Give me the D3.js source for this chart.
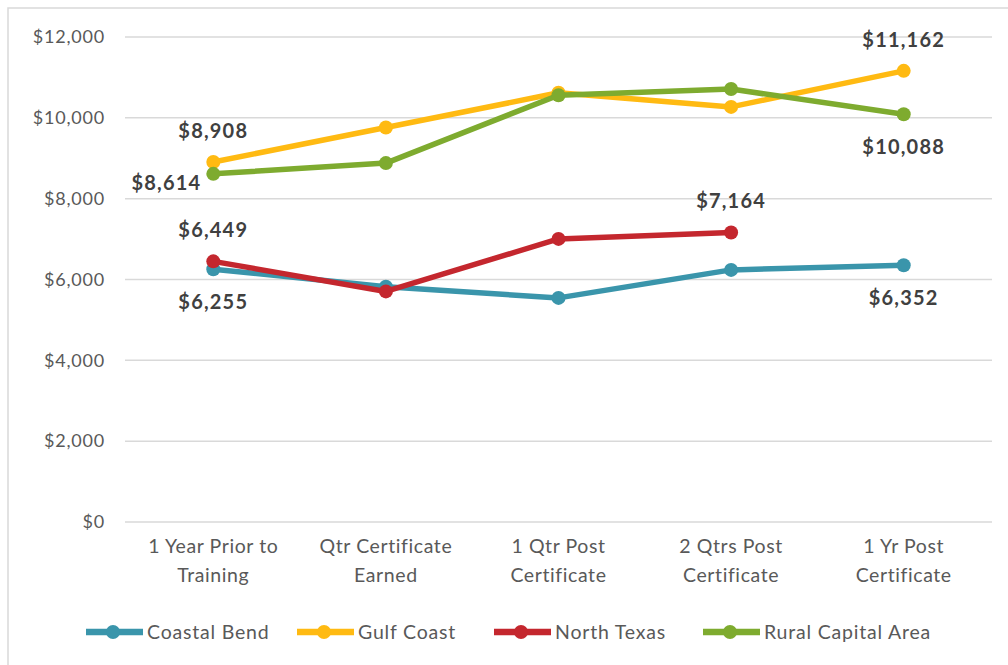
<!DOCTYPE html>
<html>
<head>
<meta charset="utf-8">
<script src="https://cdn.jsdelivr.net/npm/d3@7"></script>
<style>
  body { margin: 0; background: #fff; }
  svg { display: block; font-family: Lato, "Open Sans", sans-serif; }
</style>
</head>
<body>
<script>
// data
var categories = ["1 Year Prior to|Training", "Qtr Certificate|Earned", "1 Qtr Post|Certificate",
                  "2 Qtrs Post|Certificate", "1 Yr Post|Certificate"];
var seriesNames = ["Coastal Bend", "Gulf Coast", "North Texas", "Rural Capital Area"];
var coastalBend = [6255, 5820, 5545, 6238, 6352];
var gulfCoast = [8908, 9760, 10619, 10270, 11162];
var northTexas = [6449, 5705, 7005, 7164, null];
var ruralCapital = [8614, 8880, 10560, 10712, 10088];
var yTicks = [0, 2000, 4000, 6000, 8000, 10000, 12000];
var colors = ["#3a95ab", "#ffba12", "#c4272e", "#7eab2f"];

// which points get a value label and where
var labels = [
  {s: 1, i: 0, pos: "above"}, {s: 3, i: 0, pos: "left"},
  {s: 2, i: 0, pos: "above"}, {s: 0, i: 0, pos: "below"},
  {s: 2, i: 3, pos: "above"}, {s: 1, i: 4, pos: "above"},
  {s: 3, i: 4, pos: "below"}, {s: 0, i: 4, pos: "below"}
];

var allValues = [coastalBend, gulfCoast, northTexas, ruralCapital];
var series = seriesNames.map(function(n, k){
  return {name: n, color: colors[k], values: allValues[k]};
});

var width = 1008, height = 665;
var svg = d3.select("body").append("svg")
            .attr("width", width)
            .attr("height", height);

// outer chart border
svg.append("rect")
   .attr("x", 8).attr("y", 8)
   .attr("width", 1010).attr("height", 670)
   .attr("fill", "none")
   .attr("stroke", "#d9d9d9")
   .attr("stroke-width", 1.5);

var x = d3.scalePoint()
          .domain(d3.range(categories.length))
          .range([127, 990])
          .padding(0.5);

var y = d3.scaleLinear()
          .domain([0, 12000])
          .range([522, 37]);

// gridlines
svg.append("g").selectAll("line")
   .data(yTicks)
   .enter().append("line")
   .attr("x1", 125).attr("x2", 992)
   .attr("y1", function(d){ return y(d); })
   .attr("y2", function(d){ return y(d); })
   .attr("stroke", "#d9d9d9")
   .attr("stroke-width", 1.5);

// y axis labels
var fmt = d3.format(",");
svg.append("g").selectAll("text")
   .data(yTicks)
   .enter().append("text")
   .attr("x", 105)
   .attr("y", function(d){ return y(d); })
   .attr("dy", "0.35em")
   .attr("text-anchor", "end")
   .attr("fill", "#595959")
   .attr("font-size", 18)
   .attr("letter-spacing", 0.8)
   .text(function(d){ return "$" + fmt(d); });

// x axis labels (two lines)
var xl = svg.append("g").selectAll("text")
   .data(categories)
   .enter().append("text")
   .attr("x", function(d, i){ return x(i); })
   .attr("y", 553)
   .attr("text-anchor", "middle")
   .attr("fill", "#595959")
   .attr("font-size", 19.5)
   .attr("letter-spacing", 0.6);
xl.each(function(d, i){
  var parts = d.split("|");
  var t = d3.select(this);
  parts.forEach(function(p, k){
    t.append("tspan")
     .attr("x", x(i))
     .attr("dy", k == 0 ? 0 : 29)
     .text(p);
  });
});

// lines + points
var line = d3.line()
             .defined(function(d){ return d != null; })
             .x(function(d, i){ return x(i); })
             .y(function(d){ return y(d); });

var plot = svg.append("g");
series.forEach(function(s){
  plot.append("path")
      .attr("fill", "none")
      .attr("stroke", s.color)
      .attr("stroke-width", 5.5)
      .attr("stroke-linejoin", "round")
      .attr("d", line(s.values));
  plot.selectAll("circle.p" + s.name.replace(/ /g, ""))
      .data(s.values.map(function(v, i){ return {v: v, i: i}; })
                    .filter(function(d){ return d.v != null; }))
      .enter().append("circle")
      .attr("cx", function(d){ return x(d.i); })
      .attr("cy", function(d){ return y(d.v); })
      .attr("r", 7)
      .attr("fill", s.color);
});

// data labels
svg.append("g").selectAll("text")
   .data(labels)
   .enter().append("text")
   .attr("x", function(d){
     var px = x(d.i);
     return d.pos == "left" ? px - 12 : px;
   })
   .attr("y", function(d){
     var py = y(series[d.s].values[d.i]);
     if (d.pos == "above") return py - 31;
     if (d.pos == "below") return py + 33;
     return py + 9;
   })
   .attr("dy", "0.35em")
   .attr("text-anchor", function(d){ return d.pos == "left" ? "end" : "middle"; })
   .attr("fill", "#404040")
   .attr("font-size", 20)
   .attr("font-weight", "bold")
   .attr("letter-spacing", 1.2)
   .text(function(d){ return "$" + fmt(series[d.s].values[d.i]); });

// legend
var legendX = [86, 297, 494, 703];
var leg = svg.append("g").selectAll("g")
   .data(series)
   .enter().append("g")
   .attr("transform", function(d, i){ return "translate(" + legendX[i] + ",632)"; });
leg.append("line")
   .attr("x1", 0).attr("x2", 57)
   .attr("stroke", function(d){ return d.color; })
   .attr("stroke-width", 6.5);
leg.append("circle")
   .attr("cx", 27).attr("r", 7)
   .attr("fill", function(d){ return d.color; });
leg.append("text")
   .attr("x", 61)
   .attr("dy", "0.35em")
   .attr("fill", "#595959")
   .attr("font-size", 19.5)
   .attr("letter-spacing", 0.8)
   .text(function(d){ return d.name; });
</script>
</body>
</html>
